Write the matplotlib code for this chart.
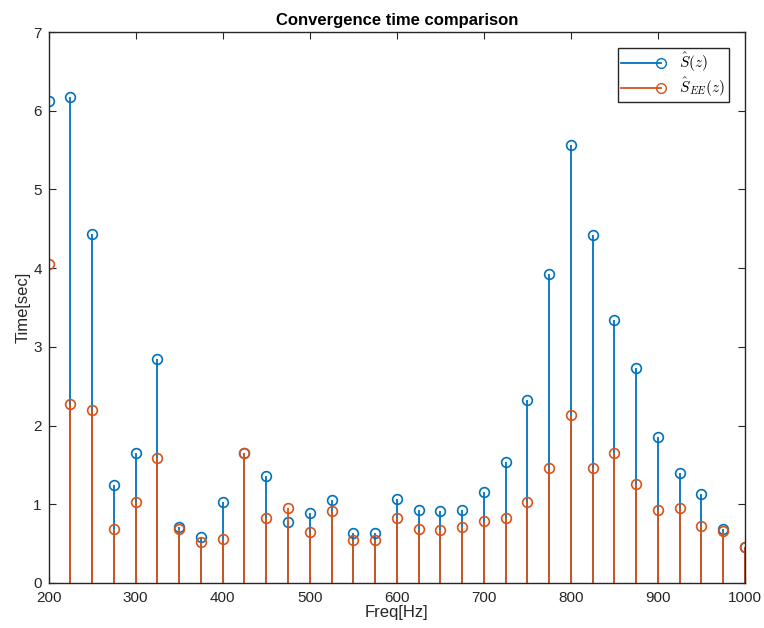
import matplotlib
matplotlib.use("Agg")
import matplotlib.pyplot as plt
from matplotlib.lines import Line2D
from matplotlib.legend_handler import HandlerLine2D

freq = list(range(200, 1001, 25))
s_hat = [6.13, 6.18, 4.44, 1.25, 1.65, 2.85, 0.71, 0.58, 1.03, 1.65, 1.36, 0.77, 0.89,
         1.05, 0.64, 0.64, 1.07, 0.93, 0.91, 0.93, 1.15, 1.54, 2.32, 3.93, 5.57, 4.42,
         3.34, 2.73, 1.85, 1.40, 1.13, 0.68, 0.46]
s_ee = [4.05, 2.28, 2.20, 0.69, 1.03, 1.59, 0.69, 0.52, 0.56, 1.65, 0.83, 0.95, 0.65,
        0.91, 0.54, 0.54, 0.83, 0.69, 0.67, 0.71, 0.79, 0.83, 1.03, 1.46, 2.14, 1.46,
        1.65, 1.26, 0.93, 0.95, 0.72, 0.66, 0.46]

blue = "#0072BD"
orange = "#D95319"

plt.rcParams['font.family'] = ['Liberation Sans', 'DejaVu Sans']
plt.rcParams['mathtext.fontset'] = 'cm'


class RightMarker(HandlerLine2D):
    def create_artists(self, legend, orig_handle, xdescent, ydescent, width, height,
                       fontsize, trans):
        arts = super().create_artists(legend, orig_handle, xdescent, ydescent, width,
                                      height, fontsize, trans)
        for a in arts:
            n = len(a.get_xdata())
            a.set_markevery([n - 1])
        return arts


fig = plt.figure(figsize=(7.64, 6.28), dpi=100)
ax = fig.add_axes([0.0637, 0.0717, 0.9113, 0.8773])

for data, c in [(s_hat, blue), (s_ee, orange)]:
    ml, sl, bl = ax.stem(freq, data, basefmt=' ')
    plt.setp(sl, color=c, linewidth=1.3)
    plt.setp(ml, markerfacecolor='none', markeredgecolor=c, markersize=7, markeredgewidth=1.2)

ax.set_xlim(200, 1000)
ax.set_ylim(0, 7)
ax.set_xticks(range(200, 1001, 100))
ax.set_yticks(range(0, 8))
ax.tick_params(direction='in', top=True, right=True, labelsize=11, length=5, colors='#262626')
ax.tick_params(axis='x', pad=6)
ax.tick_params(axis='y', pad=5)
for s in ax.spines.values():
    s.set_color('#262626')
    s.set_linewidth(1.0)

ax.set_title('Convergence time comparison', fontsize=12, fontweight='bold', pad=5)
ax.set_xlabel('Freq[Hz]', fontsize=12, labelpad=0, color='#262626')
ax.set_ylabel('Time[sec]', fontsize=12, labelpad=2, color='#262626')

handles = [Line2D([0], [0], color=blue, marker='o', markerfacecolor='none', markeredgecolor=blue,
                  markersize=7, lw=1.3),
           Line2D([0], [0], color=orange, marker='o', markerfacecolor='none', markeredgecolor=orange,
                  markersize=7, lw=1.3)]
leg = ax.legend(handles, [r'$\hat{S}(z)$', r'$\hat{S}_{EE}(z)$'], loc='upper right',
                handler_map={Line2D: RightMarker()},
                fancybox=False, edgecolor='#262626', fontsize=11, handlelength=2.6,
                labelspacing=0.1, borderpad=0.2, handletextpad=1.2,
                bbox_to_anchor=(0.9765, 0.971), borderaxespad=0, framealpha=1)
leg.get_frame().set_linewidth(1.0)

fig.savefig('out.png', dpi=100)
